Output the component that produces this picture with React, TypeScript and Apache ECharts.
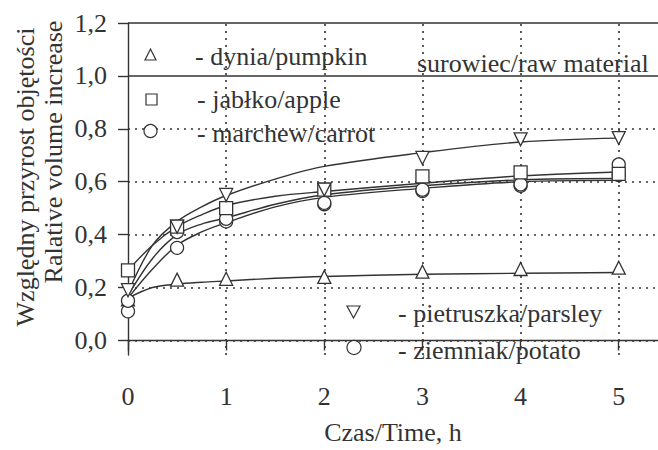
import React, { useEffect, useRef } from "react";
import * as echarts from "echarts";

// ---- data ----
const CURVE_T = [0, 0.25, 0.5, 0.75, 1, 1.5, 2, 3, 4, 5];
const CURVE_PUMPKIN = [0.16, 0.2, 0.213, 0.22, 0.225, 0.235, 0.242, 0.25, 0.254, 0.257];
const CURVE_PARSLEY = [0.18, 0.36, 0.45, 0.505, 0.548, 0.61, 0.658, 0.71, 0.75, 0.765];
const CURVE_APPLE = [0.265, 0.36, 0.43, 0.475, 0.51, 0.545, 0.563, 0.594, 0.622, 0.637];
const CURVE_CARROT = [0.17, 0.31, 0.4, 0.44, 0.463, 0.515, 0.551, 0.585, 0.607, 0.612];
const CURVE_POTATO = [0.16, 0.27, 0.36, 0.41, 0.445, 0.505, 0.541, 0.575, 0.6, 0.605];

const MEASURE_T = [0, 0.5, 1, 2, 3, 4, 5];
const PTS_PUMPKIN = [0.155, 0.23, 0.233, 0.24, 0.26, 0.27, 0.275];
const PTS_PARSLEY = [0.19, 0.43, 0.55, 0.57, 0.69, 0.76, 0.765];
const PTS_APPLE = [0.265, 0.43, 0.5, 0.57, 0.62, 0.635, 0.63];
const PTS_CARROT = [0.15, 0.41, 0.46, 0.52, 0.57, 0.59, 0.665];
const PTS_POTATO = [0.11, 0.35, 0.45, 0.515, 0.565, 0.585, 0.625];

const Y_TICKS = [0, 0.2, 0.4, 0.6, 0.8, 1.0, 1.2];
const X_TICKS = [0, 1, 2, 3, 4, 5];
const DOTTED_Y = [0, 0.2, 0.4, 0.6, 0.8];
const SOLID_Y = [1.0, 1.2];
const DOTTED_X = [1, 2, 3, 4, 5];

const X_NAME = "Czas/Time, h";
const Y_NAME_1 = "Względny przyrost objętości";
const Y_NAME_2 = "Ralative volume increase";
const RAW_LABEL = "surowiec/raw material";
const LEG_PUMPKIN = "- dynia/pumpkin";
const LEG_APPLE = "- jabłko/apple";
const LEG_CARROT = "- marchew/carrot";
const LEG_PARSLEY = "- pietruszka/parsley";
const LEG_POTATO = "- ziemniak/potato";

const INK = "#333333";
const FONT = "Liberation Serif";
const FS = 26;

function pairs(xs: number[], ys: number[]) {
  return xs.map((x, i) => [x, ys[i]]);
}

export default function App() {
  const ref = useRef<HTMLDivElement>(null);
  useEffect(() => {
    if (!ref.current) return;
    const chart = echarts.init(ref.current, null, { renderer: "svg" });
    const dotted = { color: INK, width: 1.6, type: [2, 5] as any };
    const curve = (data: number[]) => ({
      type: "line",
      data: pairs(CURVE_T, data),
      smooth: 0.35,
      showSymbol: false,
      silent: true,
      z: 2,
      lineStyle: { color: INK, width: 1.4 },
    });
    const marker = (data: number[], symbol: string, rotate = 0) => ({
      type: "scatter",
      data: pairs(MEASURE_T, data),
      symbol,
      symbolRotate: rotate,
      symbolSize: 13,
      silent: true,
      z: 3,
      itemStyle: { color: "#ffffff", borderColor: INK, borderWidth: 1.3, opacity: 1 },
    });
    const legText = (text: string, x: number, y: number) => ({
      type: "text",
      x,
      y,
      z: 10,
      style: { text, fontFamily: FONT, fontSize: FS, fill: INK, align: "left", verticalAlign: "middle" },
    });
    const shapeStyle = { fill: "#ffffff", stroke: INK, lineWidth: 1.2 };
    const option: any = {
      animation: false,
      backgroundColor: "#ffffff",
      textStyle: { fontFamily: FONT },
      grid: { left: 128, right: 0, top: 23, bottom: 88, containLabel: false },
      xAxis: {
        type: "value",
        min: 0,
        max: 5.4,
        interval: 1,
        name: X_NAME,
        nameLocation: "middle",
        nameGap: 64,
        nameTextStyle: { color: INK, fontFamily: FONT, fontSize: FS },
        axisLine: { show: true, lineStyle: { color: INK, width: 1.4 } },
        axisTick: { show: true, inside: false, length: 10, customValues: X_TICKS, lineStyle: { color: INK, width: 1.4 } },
        axisLabel: {
          customValues: X_TICKS,
          margin: 28,
          color: INK,
          fontFamily: FONT,
          fontSize: FS,
          formatter: (v: number) => (Number.isInteger(v) ? String(v) : ""),
        },
        splitLine: { show: false },
      },
      yAxis: {
        type: "value",
        min: -0.055,
        max: 1.2,
        axisLine: { show: true, lineStyle: { color: INK, width: 1.4 } },
        axisTick: { show: true, inside: false, length: 10, customValues: Y_TICKS, lineStyle: { color: INK, width: 1.4 } },
        axisLabel: {
          customValues: Y_TICKS,
          margin: 21,
          color: INK,
          fontFamily: FONT,
          fontSize: FS,
          formatter: (v: number) => v.toFixed(1).replace(".", ","),
        },
        splitLine: { show: false },
      },
      series: [
        {
          ...curve(CURVE_PUMPKIN),
          markLine: {
            silent: true,
            z: 1,
            symbol: ["none", "none"],
            label: { show: false },
            emphasis: { disabled: true },
            data: [
              ...DOTTED_Y.map((v) => ({ yAxis: v, lineStyle: dotted })),
              ...DOTTED_X.map((v) => ({ xAxis: v, lineStyle: dotted })),
              ...SOLID_Y.map((v) => ({ yAxis: v, lineStyle: { color: INK, width: 1.6, type: "solid" } })),
            ],
          },
        },
        curve(CURVE_PARSLEY),
        curve(CURVE_APPLE),
        curve(CURVE_CARROT),
        curve(CURVE_POTATO),
        marker(PTS_PUMPKIN, "triangle"),
        marker(PTS_POTATO, "circle"),
        marker(PTS_CARROT, "circle"),
        marker(PTS_APPLE, "rect"),
        marker(PTS_PARSLEY, "triangle", 180),
      ],
      graphic: [
        {
          type: "text",
          x: 25,
          y: 177,
          rotation: Math.PI / 2,
          style: { text: Y_NAME_1, fontFamily: FONT, fontSize: FS, fill: INK, align: "center", verticalAlign: "middle" },
        },
        {
          type: "text",
          x: 53,
          y: 152,
          rotation: Math.PI / 2,
          style: { text: Y_NAME_2, fontFamily: FONT, fontSize: FS, fill: INK, align: "center", verticalAlign: "middle" },
        },
        { type: "polygon", z: 10, shape: { points: [[145, 60], [156, 60], [150.5, 49]] }, style: shapeStyle },
        legText(LEG_PUMPKIN, 195, 56),
        { type: "rect", z: 10, shape: { x: 146, y: 94, width: 11, height: 11 }, style: shapeStyle },
        legText(LEG_APPLE, 197, 99),
        { type: "circle", z: 10, shape: { cx: 150.5, cy: 131, r: 6.5 }, style: shapeStyle },
        legText(LEG_CARROT, 197, 133),
        legText(RAW_LABEL, 417, 63),
        { type: "polygon", z: 10, shape: { points: [[347, 306], [360, 306], [353.5, 318]] }, style: shapeStyle },
        legText(LEG_PARSLEY, 398, 313),
        { type: "circle", z: 10, shape: { cx: 354, cy: 347.5, r: 7 }, style: shapeStyle },
        legText(LEG_POTATO, 398, 350),
      ],
    };
    chart.setOption(option);
    return () => chart.dispose();
  }, []);
  return (
    <div
      ref={ref}
      style={{ position: "absolute", left: 0, top: 0, width: 658, height: 450, background: "#fff" }}
    />
  );
}
